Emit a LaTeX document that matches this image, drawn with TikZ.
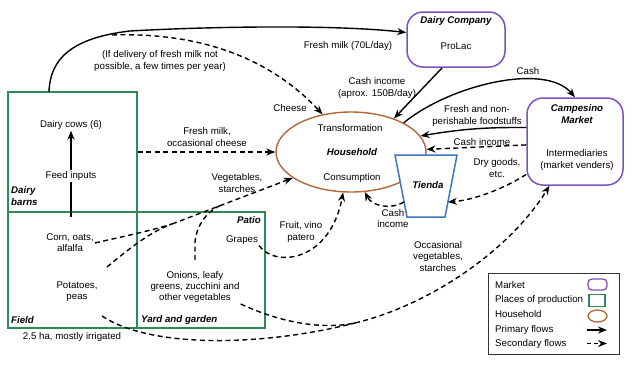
\documentclass[tikz,border=0pt]{standalone}
\usepackage{fontspec}
\setmainfont{Liberation Sans}
\usetikzlibrary{arrows.meta,shapes.geometric}
\definecolor{prodgreen}{RGB}{46,139,87}
\definecolor{mktpurple}{RGB}{128,80,190}
\definecolor{hhbrown}{RGB}{176,103,58}
\definecolor{tiblue}{RGB}{58,120,192}
\begin{document}
\begin{tikzpicture}[x=1pt,y=-1pt,
  lbl/.style={font=\fontsize{9.7}{11.3}\selectfont, align=center, inner sep=1pt},
  ttl/.style={font=\fontsize{9.7}{11.3}\selectfont\bfseries\itshape, align=center, inner sep=1pt},
  prodbox/.style={draw=prodgreen, line width=1.8pt, inner sep=0pt},
  mktbox/.style={draw=mktpurple, line width=1.5pt, rounded corners=16pt, inner sep=0pt},
  hhshape/.style={ellipse, draw=hhbrown, line width=1.4pt, inner sep=0pt},
  tishape/.style={draw=tiblue, line width=1.5pt, fill=white},
  prim/.style={line width=1.4pt, -{Stealth[length=9pt,width=7pt]}},
  sec/.style={line width=1.4pt, dash pattern=on 5pt off 3.5pt, -{Stealth[length=9pt,width=7pt]}},
  secline/.style={line width=1.4pt, dash pattern=on 5pt off 3.5pt},
  plainline/.style={line width=1.4pt},
]
\fill[white] (0,0) rectangle (640,365);
\useasboundingbox (0,0) rectangle (640,365);

% places of production
\node[prodbox, minimum width=129pt, minimum height=120pt] (barns) at (72.5,152) {};
\node[prodbox, minimum width=129pt, minimum height=116pt] (field) at (72.5,270) {};
\node[prodbox, minimum width=128pt, minimum height=116pt] (yard) at (201,270) {};

% markets
\node[mktbox, minimum width=98pt, minimum height=55pt] (dc) at (456,39.5) {};
\node[mktbox, minimum width=96pt, minimum height=87pt] (cm) at (575,141.5) {};

% household
\node[hhshape, minimum width=150pt, minimum height=80pt] (hh) at (351,152) {};

% tienda
\draw[tishape] (395,155) -- (457,155) -- (445,217) -- (407,217) -- cycle;
\coordinate (tiR) at (448,202);
\coordinate (tiL) at (404,202);

% texts in shapes
\node[lbl] (cows) at (71,125) {Dairy cows (6)};
\node[lbl] (feed) at (71,176) {Feed inputs};
\coordinate (feedtail) at (71,217);
\node[ttl, align=left, anchor=west] (barnslbl) at (10,196) {Dairy\\barns};
\node[ttl, anchor=west] (fieldlbl) at (10,320) {Field};
\node[ttl, anchor=west] (yardlbl) at (140,320) {Yard and garden};
\node[ttl, anchor=east] (patiolbl) at (262,220) {Patio};
\node[lbl] (grapes) at (242,240) {Grapes};
\node[lbl] (corn) at (70,243) {Corn, oats,\\alfalfa};
\node[lbl] (pot) at (77,292) {Potatoes,\\peas};
\node[lbl] (onions) at (195,287) {Onions, leafy\\greens, zucchini and\\other vegetables};
\node[lbl] (area) at (72,337) {2.5 ha, mostly irrigated};

\node[lbl] (trans) at (350,128) {Transformation};
\node[ttl] (hhlbl) at (352,152) {Household};
\node[lbl] (cons) at (352,178) {Consumption};
\node[ttl] (tilbl) at (428,185) {Tienda};
\node[ttl] (dclbl) at (456,21) {Dairy Company};
\node[lbl] (prolac) at (456,46) {ProLac};
\node[ttl] (cmlbl) at (577,114) {Campesino\\Market};
\node[lbl] (inter) at (577,160) {Intermediaries\\(market venders)};

% flow labels
\node[lbl] (l1) at (348,46) {Fresh milk (70L/day)};
\node[lbl] (l2) at (160,61) {(If delivery of fresh milk not\\possible, a few times per year)};
\node[lbl] (l3) at (290,108) {Cheese};
\node[lbl] (l4) at (207,137) {Fresh milk,\\occasional cheese};
\node[lbl] (l5) at (377,88) {Cash income\\(aprox. 150B/day)};
\node[lbl] (l6) at (528,71) {Cash};
\node[lbl] (l7) at (477,116) {Fresh and non-\\perishable foodstuffs};
\node[lbl] (l8) at (482,142) {Cash income};
\node[lbl] (l9) at (497,168) {Dry goods,\\etc.};
\node[lbl] (l10) at (393,218.5) {Cash\\income};
\node[lbl] (l11) at (301,232) {Fruit, vino\\patero};
\node[lbl] (l12) at (237,183) {Vegetables,\\starches};
\node[lbl] (l13) at (438,256.5) {Occasional\\vegetables,\\starches};

% internal dairy flow
\draw[plainline] (feedtail) -- (feed.south);
\draw[prim] (feed.north) -- (cows.south);

% milk to dairy company
\coordinate (barnstop) at (49,92);
\coordinate (br) at (112,35);
\draw[prim] (barnstop) .. controls (50,60) and (70,38) .. (130,31)
  .. controls (200,27) and (330,24) .. (dc.172);
\draw[sec] (br) .. controls (200,32) and (270,58) .. (hh.127);

% fresh milk to household
\draw[sec] (barns.east) -- (hh.west);

% dairy company cash
\draw[prim] (dc.244) -- (hh.38);

% household <-> campesino market
\draw[prim] (hh.29) .. controls (450,85) and (545,62) .. (cm.north);
\draw[prim] (cm.164) to[bend right=5] (hh.13);
\draw[sec] (cm.184) -- (hh.2);
\draw[sec] (cm.214) .. controls (505,188) and (475,200) .. (tiR);
\draw[sec] (tiL) .. controls (390,210) and (372,206) .. (hh.289);

% vegetables to household
\coordinate (mg1) at (172,224);
\coordinate (mg) at (221,205.2);
\coordinate (potA) at (107,267);
\coordinate (onA) at (195,260);
\draw[secline] (corn.east) .. controls (125,236) and (150,231) .. (mg1);
\draw[secline] (potA) .. controls (130,248) and (150,232) .. (mg1);
\draw[secline] (onA) -- (195,242) .. controls (196,228) and (205,212) .. (mg);
\draw[sec] (mg1) -- (hh.204);

% fruit
\draw[sec] (grapes.south east) .. controls (275,268) and (330,262) .. (hh.259);

% occasional vegetables to market
\coordinate (mg2) at (355,323);
\coordinate (potB) at (102,316);
\draw[secline] (potB) .. controls (150,348) and (260,347) .. (mg2);
\draw[secline] (onions.south east) .. controls (280,322) and (320,330) .. (mg2);
\draw[sec] (mg2) .. controls (430,305) and (510,250) .. (cm.240);

% legend
\node[draw=black!80, line width=0.9pt, minimum width=131pt, minimum height=81pt, inner sep=0pt] (legend) at (553.5,313.5) {};
\node[lbl, anchor=west] (lg1) at (494,285) {Market};
\node[lbl, anchor=west] (lg2) at (494,299.5) {Places of production};
\node[lbl, anchor=west] (lg3) at (494,314.5) {Household};
\node[lbl, anchor=west] (lg4) at (494,330) {Primary flows};
\node[lbl, anchor=west] (lg5) at (494,343.5) {Secondary flows};
\node[mktbox, rounded corners=4pt, line width=1.3pt, minimum width=19pt, minimum height=11pt] (lgs1) at (597.5,284.5) {};
\node[prodbox, line width=1.3pt, minimum width=16pt, minimum height=12pt] (lgs2) at (597,300.5) {};
\node[hhshape, line width=1.3pt, minimum width=19pt, minimum height=12pt] (lgs3) at (597.5,316) {};
\coordinate (lga) at (587,330);
\coordinate (lgb) at (607,330);
\coordinate (lgc) at (587,343.5);
\coordinate (lgd) at (607,343.5);
\draw[prim] (lga) -- (lgb);
\draw[line width=1.4pt, dash pattern=on 4pt off 3pt, -{Stealth[length=9pt,width=7pt]}] (lgc) -- (lgd);
\end{tikzpicture}
\end{document}
